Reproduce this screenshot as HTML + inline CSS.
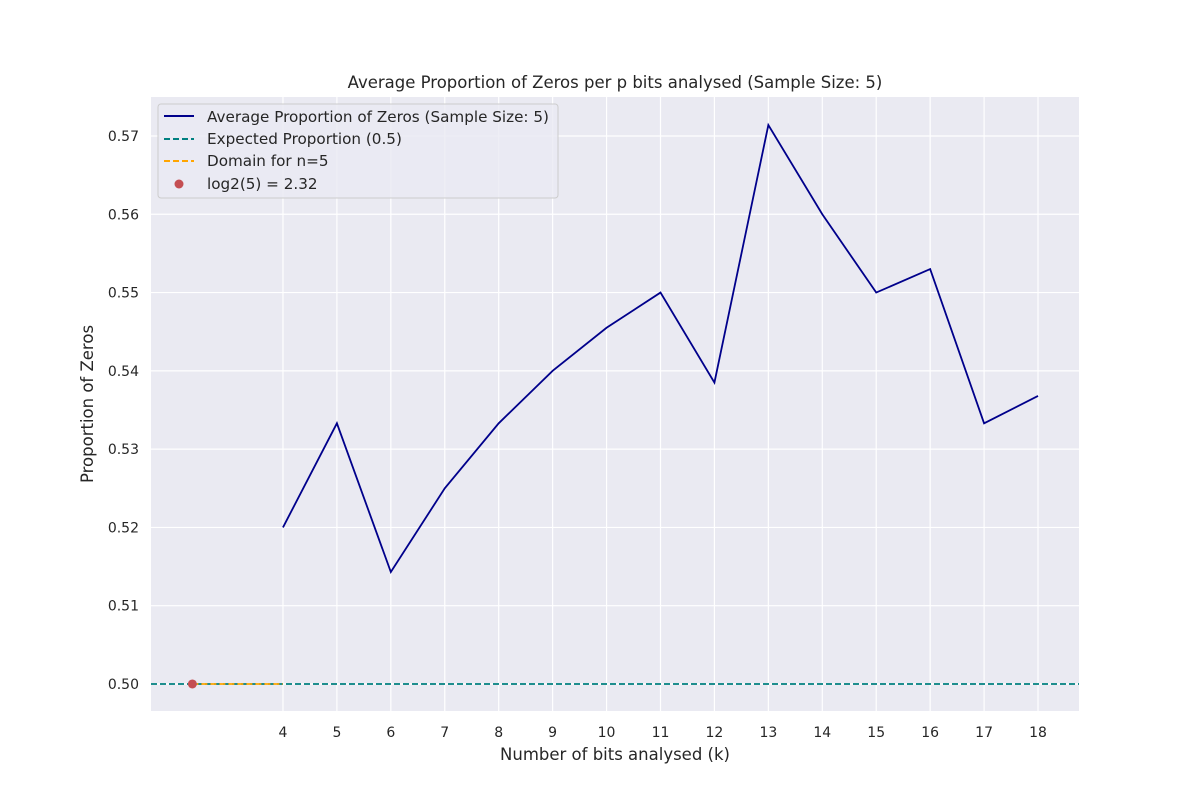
<!DOCTYPE html>
<html><head><meta charset="utf-8"><style>
html,body{margin:0;padding:0;background:#fff;}
svg text{font-family:"DejaVu Sans","Liberation Sans",sans-serif;fill:#262626;}
</style></head><body>
<svg width="1200" height="800" xmlns="http://www.w3.org/2000/svg">
<rect x="151" y="97" width="928" height="614" fill="#eaeaf2"/>
<g id="grid"></g>
<g id="marks"></g>
<g id="ticks"></g>
<text x="615" y="88" font-size="16.5" text-anchor="middle">Average Proportion of Zeros per p bits analysed (Sample Size: 5)</text>
<text x="615" y="760" font-size="16.5" text-anchor="middle">Number of bits analysed (k)</text>
<text transform="translate(93,404) rotate(-90)" font-size="16.5" text-anchor="middle">Proportion of Zeros</text>
<g>
<rect x="158" y="104" width="400" height="94" rx="3" fill="#eaeaf2" fill-opacity="0.8" stroke="#cccccc"/>
<line x1="164" y1="116" x2="194" y2="116" stroke="#00008b" stroke-width="2"/>
<text x="207" y="122" font-size="15.2">Average Proportion of Zeros (Sample Size: 5)</text>
<line x1="164" y1="139" x2="194" y2="139" stroke="#008080" stroke-width="2" stroke-dasharray="6,3"/>
<text x="207" y="144" font-size="15.2">Expected Proportion (0.5)</text>
<line x1="164" y1="161" x2="194" y2="161" stroke="#ffa500" stroke-width="2" stroke-dasharray="6,3"/>
<text x="207" y="166" font-size="15.2">Domain for n=5</text>
<circle cx="179" cy="184" r="4.5" fill="#c44e52"/>
<text x="207" y="189" font-size="15.2">log2(5) = 2.32</text>
</g>
</svg>
<script>
const ks=[4,5,6,7,8,9,10,11,12,13,14,15,16,17,18];
const props=[0.52,0.5333,0.5143,0.525,0.5333,0.54,0.5455,0.55,0.5385,0.5714,0.56,0.55,0.553,0.5333,0.5368];
const yTicks=[0.50,0.51,0.52,0.53,0.54,0.55,0.56,0.57];
const expected=0.5;
const logVal=2.32;
const X0=151,X1=1079,Y0=711,Y1=97,xmin=1.553,xmax=18.76,ymin=0.49655,ymax=0.57498;
const sx=v=>X0+(v-xmin)/(xmax-xmin)*(X1-X0);
const sy=v=>Y0-(v-ymin)/(ymax-ymin)*(Y0-Y1);
const NS="http://www.w3.org/2000/svg";
function mk(p,t,a){const e=document.createElementNS(NS,t);for(const k in a)e.setAttribute(k,a[k]);document.getElementById(p).appendChild(e);return e;}
ks.forEach(k=>{
 const g=mk('grid','line',{x1:sx(k),x2:sx(k),y1:Y1,y2:Y0,stroke:'#fff','stroke-width':1.2});
 
 
 const t=mk('ticks','text',{x:sx(k),y:737,'font-size':14,'text-anchor':'middle'});t.textContent=k;
 
 
});
yTicks.forEach(v=>{
 const g=mk('grid','line',{x1:X0,x2:X1,y1:sy(v),y2:sy(v),stroke:'#fff','stroke-width':1.2});
 
 
 const t=mk('ticks','text',{x:139,y:sy(v)+5,'font-size':14,'text-anchor':'end'});t.textContent=v.toFixed(2);
 
 
});
const el=mk('marks','line',{x1:X0,x2:X1,y1:sy(expected),y2:sy(expected),stroke:'#008080','stroke-width':1.8,'stroke-dasharray':'6,3'});


const dl=mk('marks','line',{x1:sx(logVal),x2:sx(ks[0]),y1:sy(expected),y2:sy(expected),stroke:'#ffa500','stroke-width':1.8,'stroke-dasharray':'6,3'});


const pl=mk('marks','polyline',{points:ks.map((k,i)=>sx(k)+','+sy(props[i])).join(' '),fill:'none',stroke:'#00008b','stroke-width':1.8});


const c=mk('marks','circle',{cx:sx(logVal),cy:sy(expected),r:4.5,fill:'#c44e52'});


</script>
</body></html>
